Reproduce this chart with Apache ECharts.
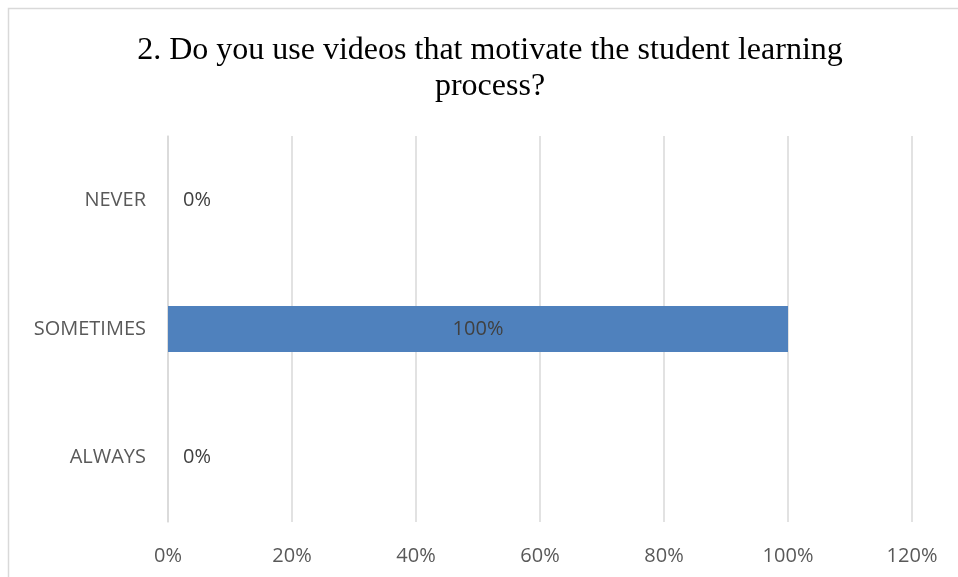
<!DOCTYPE html>
<html>
<head>
<meta charset="utf-8">
<script src="https://cdn.jsdelivr.net/npm/echarts@6/dist/echarts.min.js"></script>
<style>
  html, body { margin: 0; padding: 0; background: #ffffff; }
  #chart { width: 958px; height: 577px; }
</style>
</head>
<body>
<div id="chart"></div>
<script>
// Survey question 2: share of answers per frequency option
const titleLines = ['2. Do you use videos that motivate the student learning', 'process?'];
const categories = ['NEVER', 'SOMETIMES', 'ALWAYS'];
const shares = [0, 100, 0];
const tickValues = [0, 20, 40, 60, 80, 100, 120];

const chart = echarts.init(document.getElementById('chart'), null, { renderer: 'canvas' });

const axisFont = '"Open Sans", "Liberation Sans", sans-serif';

const option = {
  animation: false,
  backgroundColor: '#ffffff',
  graphic: [
    {
      type: 'rect',
      shape: { x: 8.5, y: 8.5, width: 1000, height: 1000 },
      style: { fill: 'none', stroke: '#d9d9d9', lineWidth: 1.5 },
      silent: true
    }
  ],
  title: {
    text: titleLines.join('\n'),
    left: 485,
    top: 28,
    textAlign: 'center',
    textStyle: {
      fontFamily: '"Liberation Serif", "Times New Roman", serif',
      fontSize: 32,
      fontWeight: 'normal',
      color: '#000000',
      lineHeight: 36
    }
  },
  grid: { left: 168, top: 136, width: 744, height: 386, containLabel: false },
  xAxis: {
    type: 'value',
    min: tickValues[0],
    max: tickValues[tickValues.length - 1],
    interval: 20,
    axisLine: { show: false },
    axisTick: { show: false },
    splitLine: { show: true, lineStyle: { color: '#d9d9d9', width: 1.5 } },
    axisLabel: {
      formatter: v => v + '%',
      color: '#595959',
      fontFamily: axisFont,
      fontSize: 20,
      margin: 24
    }
  },
  yAxis: {
    type: 'category',
    data: categories,
    inverse: true,
    axisLine: { show: true, lineStyle: { color: '#d9d9d9', width: 1.5 } },
    axisTick: { show: false },
    splitLine: { show: false },
    axisLabel: {
      color: '#595959',
      fontFamily: axisFont,
      fontSize: 20,
      margin: 22
    }
  },
  series: [
    {
      type: 'bar',
      data: shares.map(v => ({
        value: v,
        label: v > 0 ? { position: 'inside' } : { position: 'right', distance: 15 }
      })),
      barWidth: 46,
      itemStyle: { color: '#4f81bd' },
      label: {
        show: true,
        formatter: p => p.value + '%',
        color: '#404040',
        fontFamily: axisFont,
        fontSize: 20
      }
    }
  ]
};

chart.setOption(option);
</script>
</body>
</html>
